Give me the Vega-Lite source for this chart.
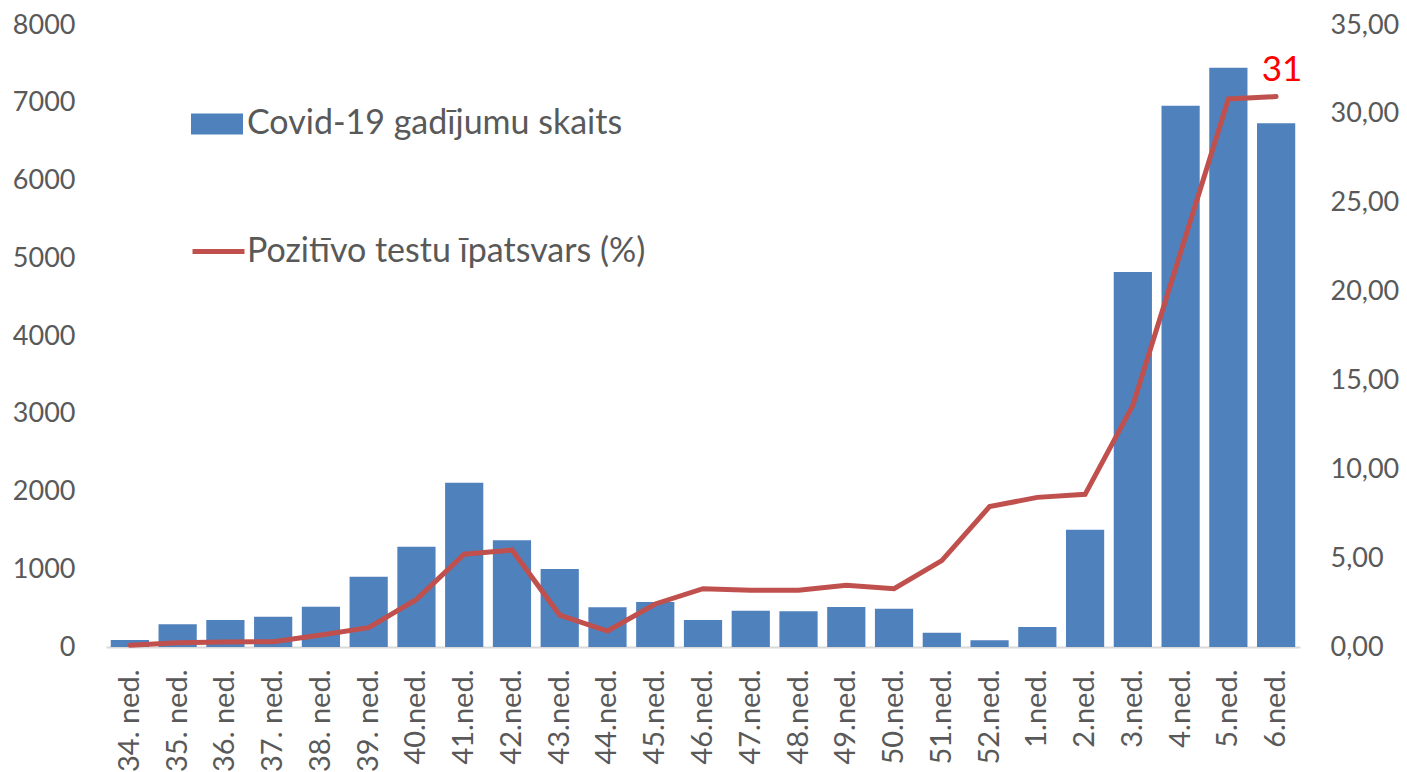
{
  "$schema": "https://vega.github.io/schema/vega-lite/v6.json",
  "width": 1194,
  "height": 622,
  "autosize": {"type": "none"},
  "padding": {"left": 106, "top": 25, "right": 107, "bottom": 125},
  "background": "white",
  "config": {
    "view": {"stroke": null},
    "font": "Lato",
    "axis": {"labelFont": "Lato", "labelColor": "#595959", "labelFontSize": 27, "ticks": false, "grid": false, "title": null},
    "legend": {"labelFont": "Lato", "labelColor": "#595959", "labelFontSize": 34, "labelLimit": 0, "padding": 0, "title": null}
  },
  "data": {
    "values": [
      {"week": "34. ned.", "cases": 90, "pct": 0.1},
      {"week": "35. ned.", "cases": 292, "pct": 0.24},
      {"week": "36. ned.", "cases": 347, "pct": 0.28},
      {"week": "37. ned.", "cases": 390, "pct": 0.3},
      {"week": "38. ned.", "cases": 518, "pct": 0.68},
      {"week": "39. ned.", "cases": 904, "pct": 1.09},
      {"week": "40.ned.", "cases": 1290, "pct": 2.68},
      {"week": "41.ned.", "cases": 2113, "pct": 5.22},
      {"week": "42.ned.", "cases": 1372, "pct": 5.46},
      {"week": "43.ned.", "cases": 1003, "pct": 1.8},
      {"week": "44.ned.", "cases": 510, "pct": 0.9},
      {"week": "45.ned.", "cases": 579, "pct": 2.42},
      {"week": "46.ned.", "cases": 347, "pct": 3.28},
      {"week": "47.ned.", "cases": 467, "pct": 3.19},
      {"week": "48.ned.", "cases": 459, "pct": 3.19},
      {"week": "49.ned.", "cases": 514, "pct": 3.47},
      {"week": "50.ned.", "cases": 493, "pct": 3.28},
      {"week": "51.ned.", "cases": 184, "pct": 4.86},
      {"week": "52.ned.", "cases": 86, "pct": 7.9},
      {"week": "1.ned.", "cases": 257, "pct": 8.42},
      {"week": "2.ned.", "cases": 1509, "pct": 8.59},
      {"week": "3.ned.", "cases": 4823, "pct": 13.6},
      {"week": "4.ned.", "cases": 6962, "pct": 22.2},
      {"week": "5.ned.", "cases": 7451, "pct": 30.84},
      {"week": "6.ned.", "cases": 6736, "pct": 30.97}
    ]
  },
  "encoding": {
    "x": {
      "field": "week", "type": "nominal", "sort": null,
      "scale": {"paddingInner": 0.2, "paddingOuter": 0.1},
      "axis": {"labelAngle": -90, "labelPadding": 22, "domainColor": "#D9D9D9", "domainWidth": 2, "labelFontSize": 29}
    }
  },
  "layer": [
    {
      "mark": {"type": "bar", "color": "#4F81BD"},
      "encoding": {
        "y": {
          "field": "cases", "type": "quantitative",
          "scale": {"domain": [0, 8000], "nice": false},
          "axis": {"values": [0, 1000, 2000, 3000, 4000, 5000, 6000, 7000, 8000], "labelPadding": 31, "domain": false, "format": "d"}
        },
        "fill": {
          "datum": "Covid-19 gadījumu skaits", "type": "nominal",
          "scale": {"range": ["#4F81BD"]},
          "legend": {"orient": "none", "legendX": 85, "legendY": 73, "symbolType": "M-1,-0.4H1V0.4H-1Z", "symbolSize": 2704, "symbolStrokeWidth": 0, "symbolOpacity": 1, "labelOffset": 4}
        }
      }
    },
    {
      "layer": [
        {
          "mark": {"type": "line", "strokeWidth": 5, "strokeCap": "round", "color": "#C0504D"},
          "encoding": {
            "y": {
              "field": "pct", "type": "quantitative",
              "scale": {"domain": [0, 35], "nice": false},
              "axis": {"orient": "right", "values": [0, 5, 10, 15, 20, 25, 30, 35], "labelPadding": 30, "domain": false, "labelFontSize": 27, "labelExpr": "replace(format(datum.value, '.2f'), '.', ',')"}
            },
            "stroke": {
              "datum": "Pozitīvo testu īpatsvars (%)", "type": "nominal",
              "scale": {"range": ["#C0504D"]},
              "legend": {"orient": "none", "legendX": 84, "legendY": 198, "symbolType": "stroke", "symbolSize": 2700, "symbolStrokeWidth": 5, "labelOffset": 0}
            }
          }
        },
        {
          "transform": [{"filter": "datum.week == '6.ned.'"}],
          "mark": {"type": "text", "color": "#FF0000", "fontSize": 35, "font": "Lato", "dx": 6, "dy": -27, "align": "center"},
          "encoding": {
            "y": {"field": "pct", "type": "quantitative"},
            "text": {"field": "pct", "type": "quantitative", "format": ".0f"}
          }
        }
      ]
    }
  ],
  "resolve": {"scale": {"y": "independent"}}
}
